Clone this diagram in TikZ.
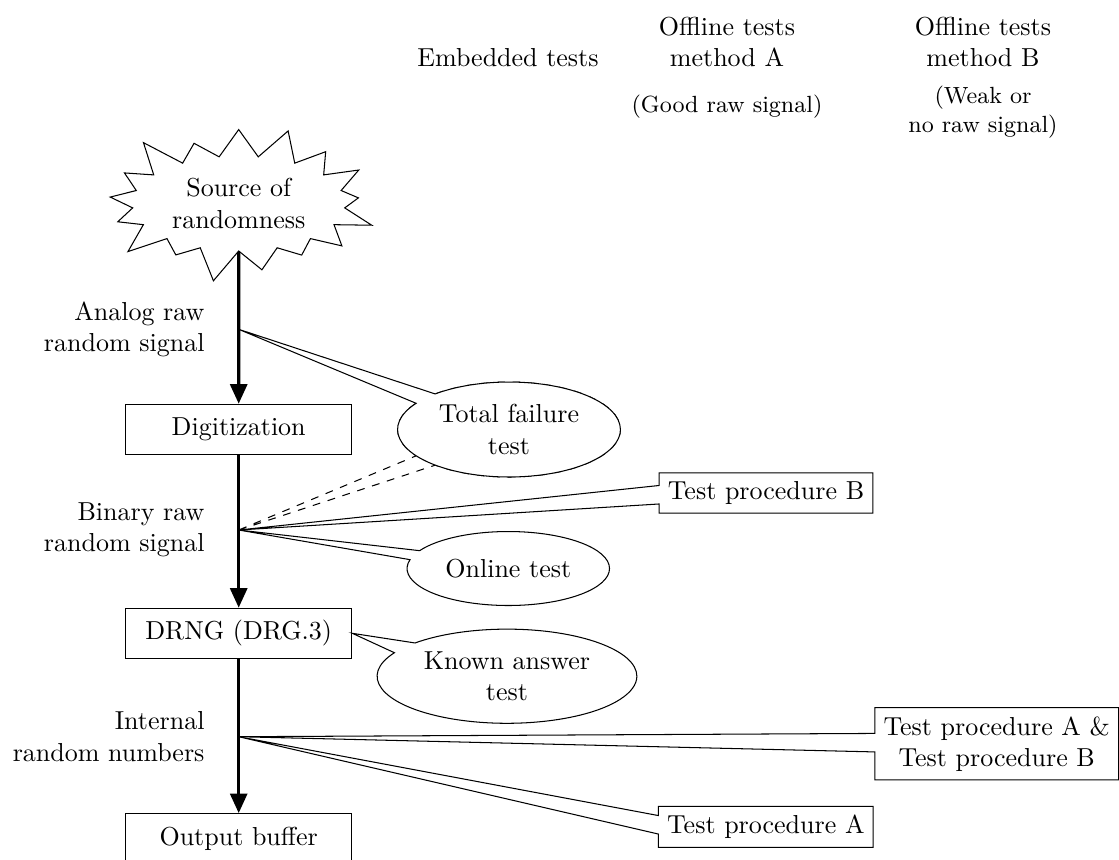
\documentclass[tikz,border=0pt]{standalone}
\usetikzlibrary{shapes.symbols,shapes.callouts,shapes.geometric,arrows.meta}
\begin{document}
\begin{tikzpicture}[x=0.3846pt,y=-0.3846pt,
  box/.style={draw, rectangle, minimum width=87pt, minimum height=19.3pt},
  flow/.style={very thick, -{Triangle[length=7.5pt,width=6.5pt]}},
  lbl/.style={anchor=east, align=right, inner sep=0pt},
  ecall/.style={draw, ellipse callout, align=center, minimum height=1cm, fill=white},
  rcall/.style={draw, rectangle callout, align=center, fill=white},
  hdr/.style={align=center, anchor=south, inner sep=0pt},
  subhdr/.style={align=center, font=\small, inner sep=0pt}]
\useasboundingbox (0,0) rectangle (1119,859);

% headers
\node[hdr] (hemb) at (508,67) {Embedded tests};
\node[hdr] (hoffa) at (727,67) {Offline tests\\method A};
\node[hdr] (hoffb) at (983,67) {Offline tests\\method B};
\node[subhdr] (sgood) at (727,107) {(Good raw signal)};
\node[subhdr] (sweak) at (983,112) {(Weak or\\no raw signal)};

% main chain
\node[draw, starburst, align=center] (src) at (238.7,203.5) {Source of\\randomness};
\node[box] (dig) at (238.7,429.3) {Digitization};
\node[box] (drng) at (238.7,633.3) {DRNG (DRG.3)};
\node[box] (out) at (238.7,838.7) {Output buffer};

\coordinate (b1) at (238.7,329.3);
\coordinate (b2) at (238.7,530);
\coordinate (b3) at (238.7,736.7);

\node[lbl] (l1) at (205,329.3) {Analog raw\\random signal};
\node[lbl] (l2) at (205,530) {Binary raw\\random signal};
\node[lbl] (l3) at (205,736.7) {Internal\\random numbers};

% callouts
\node[ecall, dashed, callout absolute pointer={(b2)}] (tftd) at (509,429.5) {Total failure\\test};
\node[ecall, callout absolute pointer={(b1)}] (tft) at (509,429.5) {Total failure\\test};
\node[ecall, callout absolute pointer={(b2)}] (ont) at (508.3,568.5) {Online test};
\node[ecall, callout absolute pointer={(drng.east)}] (kat) at (507,676.2) {Known answer\\test};

\node[rcall, callout absolute pointer={(b2)}] (tpb) at (766,493) {Test procedure B};
\node[rcall, callout absolute pointer={(b3)}] (tpab) at (996.7,743.8) {Test procedure A \&\\Test procedure B};
\node[rcall, callout absolute pointer={(b3)}] (tpa) at (765.8,826.8) {Test procedure A};

% flow arrows
\draw[flow] (src) -- (dig);
\draw[flow] (dig) -- (drng);
\draw[flow] (drng) -- (out);
\end{tikzpicture}
\end{document}
